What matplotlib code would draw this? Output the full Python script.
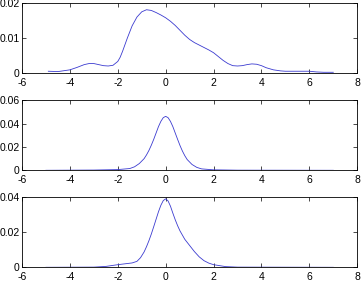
import numpy as np
import matplotlib
matplotlib.use("Agg")
import matplotlib.pyplot as plt

plt.rcParams["font.family"] = ["Liberation Sans", "DejaVu Sans"]
plt.rcParams["axes.unicode_minus"] = False

# --- curve 1 (top) ---
x1 = [-4.9, -4.5, -4.0, -3.7, -3.4, -3.2, -3.0, -2.8, -2.6, -2.4, -2.2, -2.0, -1.9, -1.8,
      -1.6, -1.4, -1.2, -1.0, -0.8, -0.6, -0.4, -0.2, 0.0, 0.2, 0.4, 0.6, 0.8, 1.0, 1.2,
      1.4, 1.6, 1.8, 2.0, 2.2, 2.4, 2.6, 2.8, 3.0, 3.2, 3.4, 3.6, 3.8, 4.0, 4.2, 4.5, 4.8,
      5.0, 5.5, 6.0, 6.3, 6.6, 7.0]
y1 = [0.0005, 0.0004, 0.0009, 0.0016, 0.0024, 0.0027, 0.0027, 0.0024, 0.0021, 0.0020,
      0.0022, 0.0033, 0.0045, 0.0062, 0.0100, 0.0135, 0.0160, 0.0175, 0.0181, 0.0179,
      0.0173, 0.0166, 0.0158, 0.0148, 0.0136, 0.0122, 0.0108, 0.0096, 0.0087, 0.0080,
      0.0073, 0.0066, 0.0058, 0.0047, 0.0036, 0.0027, 0.0021, 0.0020, 0.0021, 0.0024,
      0.0026, 0.0025, 0.0021, 0.0015, 0.0009, 0.0006, 0.0005, 0.0005, 0.0005, 0.0003,
      0.0002, 0.0002]

# --- curve 2 (middle) ---
x2 = [-5.0, -3.0, -2.0, -1.5, -1.3, -1.1, -0.9, -0.8, -0.7, -0.6, -0.5, -0.4, -0.3, -0.2,
      -0.1, 0.0, 0.1, 0.2, 0.3, 0.4, 0.5, 0.6, 0.7, 0.8, 0.9, 1.1, 1.3, 1.5, 2.0, 3.0, 7.0]
y2 = [0.0, 0.0002, 0.0006, 0.0015, 0.0030, 0.0058, 0.0100, 0.0132, 0.0170, 0.0215,
      0.0265, 0.0320, 0.0375, 0.0420, 0.0452, 0.0463, 0.0452, 0.0420, 0.0375, 0.0320,
      0.0265, 0.0212, 0.0165, 0.0125, 0.0092, 0.0050, 0.0025, 0.0012, 0.0004, 0.0001, 0.0]

# --- curve 3 (bottom) ---
x3 = [-5.0, -3.0, -2.5, -2.0, -1.7, -1.4, -1.2, -1.05, -0.9, -0.8, -0.7, -0.6, -0.5, -0.4,
      -0.3, -0.2, -0.1, 0.0, 0.1, 0.2, 0.3, 0.4, 0.5, 0.6, 0.8, 1.0, 1.2, 1.4, 1.6, 1.8,
      2.0, 2.5, 3.0, 7.0]
y3 = [0.0, 0.0001, 0.0005, 0.0015, 0.0020, 0.0025, 0.0034, 0.0055, 0.0088, 0.0118,
      0.0152, 0.0190, 0.0232, 0.0275, 0.0318, 0.0355, 0.0382, 0.0392, 0.0380, 0.0350,
      0.0310, 0.0272, 0.0238, 0.0208, 0.0160, 0.0125, 0.0090, 0.0060, 0.0038, 0.0024,
      0.0015, 0.0004, 0.0001, 0.0]

xticks = [-6, -4, -2, 0, 2, 4, 6, 8]
yticks1 = [0, 0.01, 0.02]
yticks2 = [0, 0.02, 0.04, 0.06]
yticks3 = [0, 0.02, 0.04]
ylabels1 = ["0", "0.01", "0.02"]
ylabels2 = ["0", "0.02", "0.04", "0.06"]
ylabels3 = ["0", "0.02", "0.04"]

fig = plt.figure(figsize=(3.64, 2.93), dpi=100)
panels = [
    (x1, y1, yticks1, ylabels1, 0.7509),
    (x2, y2, yticks2, ylabels2, 0.4188),
    (x3, y3, yticks3, ylabels3, 0.0877),
]
for xs, ys, yt, yl, bot in panels:
    ax = fig.add_axes([0.0604, bot, 0.921, 0.2385])
    ax.plot(xs, ys, color="#3b3bd0", lw=0.6)
    ax.set_xlim(-6, 8)
    ax.set_ylim(yt[0], yt[-1])
    ax.set_xticks(xticks)
    ax.set_xticklabels([str(t) for t in xticks])
    ax.set_yticks(yt)
    ax.set_yticklabels(yl)
    ax.tick_params(direction="in", top=True, right=True, length=3, width=0.5,
                   labelsize=7.5, colors="black")
    ax.tick_params(axis="x", pad=3.5)
    ax.tick_params(axis="y", pad=1.8)
    for s in ax.spines.values():
        s.set_linewidth(0.6)

fig.savefig("out.png", dpi=100)
